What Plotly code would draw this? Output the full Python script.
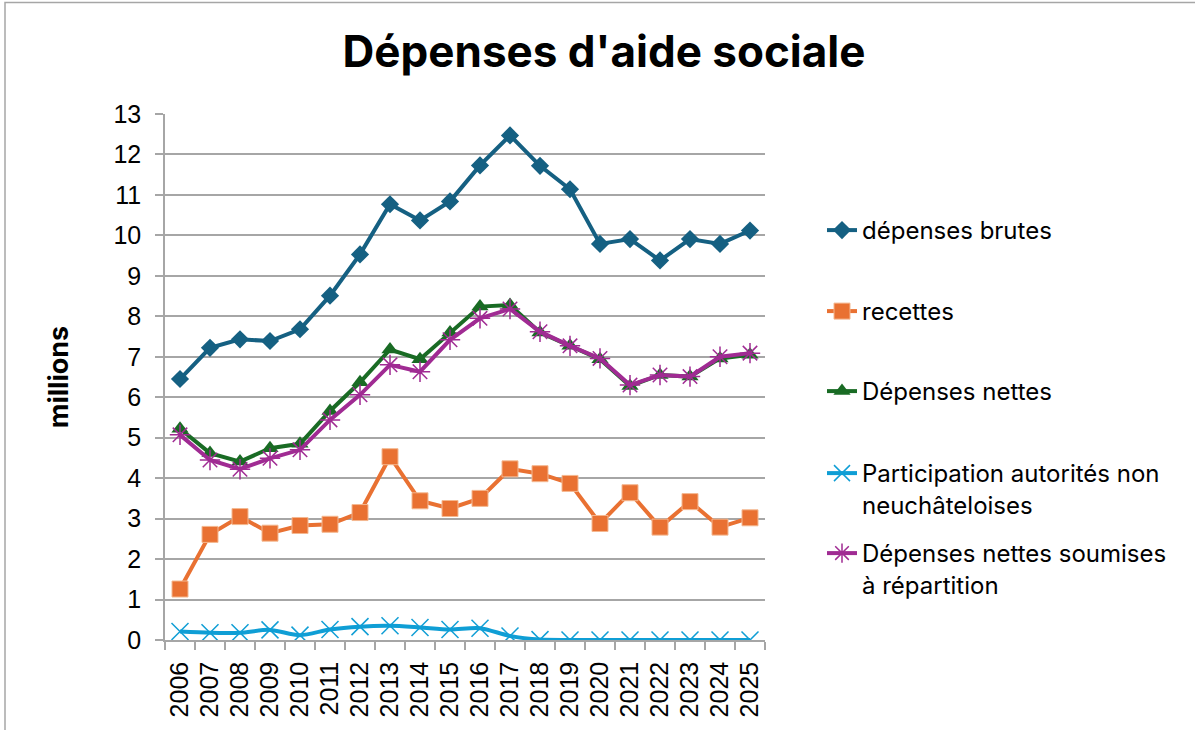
import plotly.graph_objects as go

years = [str(y) for y in range(2006, 2026)]

depenses_brutes = [6.45, 7.22, 7.43, 7.39, 7.68, 8.51, 9.53, 10.77, 10.37, 10.84,
                   11.73, 12.47, 11.72, 11.14, 9.79, 9.91, 9.38, 9.91, 9.79, 10.12]
recettes = [1.26, 2.61, 3.05, 2.64, 2.83, 2.86, 3.15, 4.53, 3.44, 3.25,
            3.50, 4.23, 4.11, 3.87, 2.88, 3.64, 2.79, 3.42, 2.79, 3.02]
depenses_nettes = [5.22, 4.62, 4.41, 4.74, 4.85, 5.66, 6.37, 7.18, 6.94, 7.60,
                   8.24, 8.28, 7.60, 7.27, 6.94, 6.28, 6.55, 6.51, 6.96, 7.05]
participation = [0.21, 0.18, 0.18, 0.25, 0.12, 0.26, 0.33, 0.35, 0.31, 0.26,
                 0.29, 0.10, 0.01, 0.0, 0.0, 0.0, 0.0, 0.0, 0.0, 0.0]
nettes_repartition = [5.07, 4.45, 4.22, 4.49, 4.70, 5.44, 6.06, 6.80, 6.63, 7.42,
                      7.95, 8.18, 7.62, 7.27, 6.96, 6.30, 6.55, 6.51, 7.00, 7.09]

names = ["dépenses brutes", "recettes", "Dépenses nettes",
         "Participation autorités non<br>neuchâteloises",
         "Dépenses nettes soumises<br>à répartition"]

TICK_FONT = "Liberation Sans, Arial, sans-serif"
TEXT_FONT = "Inter, Noto Sans, sans-serif"
GRID = "#A6A6A6"

fig = go.Figure()

series = [
    (depenses_brutes, "#156082", dict(symbol="diamond", size=14), "linear"),
    (recettes, "#E97132", dict(symbol="square", size=16,
                                line=dict(color="#F4B890", width=1)), "linear"),
    (depenses_nettes, "#196B24", dict(symbol="triangle-up", size=15), "linear"),
    (participation, "#0F9ED5", dict(symbol="x-thin", size=17,
                                     line=dict(color="#0F9ED5", width=1.5)), "spline"),
    (nettes_repartition, "#A02B93", dict(symbol="asterisk", size=17,
                                          line=dict(color="#A02B93", width=1.5)), "linear"),
]

for i, (vals, color, marker, shape) in enumerate(series):
    marker = dict(marker)
    marker["color"] = color
    fig.add_trace(go.Scatter(
        x=years, y=vals, name=names[i], mode="lines+markers",
        line=dict(color=color, width=4, shape=shape, smoothing=0.8),
        marker=marker,
        legend="legend" if i == 0 else f"legend{i + 1}",
    ))

# Each series gets its own legend box stacked on the right
W, H = 1195, 730
L, R, T, B = 165, 430, 114, 90
pw, ph = W - L - R, H - T - B
legend_tops = [208, 289, 369, 451, 531]
legend_layout = {}
for i, top in enumerate(legend_tops):
    key = "legend" if i == 0 else f"legend{i + 1}"
    legend_layout[key] = dict(
        x=(822 - L) / pw, y=(H - B - top) / ph,
        xanchor="left", yanchor="top", valign="top",
        font=dict(family=TEXT_FONT, size=24, color="#000000"),
        bgcolor="rgba(0,0,0,0)", borderwidth=0,
    )

fig.update_layout(
    width=W, height=H,
    margin=dict(l=L, r=R, t=T, b=B),
    paper_bgcolor="white", plot_bgcolor="white",
    title=dict(text="<b>Dépenses d'aide sociale</b>",
               x=604 / W, xref="container", xanchor="center",
               y=1 - 52 / H, yref="container", yanchor="middle",
               font=dict(family=TEXT_FONT, size=44, color="#000000")),
    showlegend=True,
    **legend_layout,
)

fig.update_xaxes(
    type="category", range=[-0.5, 19.5],
    tickmode="array", tickvals=years, ticktext=years,
    showline=True, linecolor=GRID, linewidth=1.5,
    showgrid=False,
    ticks="outside", tickson="boundaries", ticklen=8, tickcolor=GRID, tickwidth=1.5,
    tickangle=-90, ticklabelstandoff=10,
    tickfont=dict(family=TICK_FONT, size=25, color="#000000"),
)
fig.update_yaxes(
    range=[0, 13], dtick=1, tick0=0,
    showline=True, linecolor=GRID, linewidth=1.5,
    showgrid=True, gridcolor=GRID, gridwidth=1.5,
    ticks="outside", ticklen=8, tickcolor=GRID, tickwidth=1.5,
    ticklabelstandoff=9, zeroline=False,
    tickfont=dict(family=TICK_FONT, size=25, color="#000000"),
    title=dict(text="<b>millions</b>", standoff=37,
               font=dict(family=TEXT_FONT, size=27, color="#000000")),
)

# Chart area frame
fig.add_shape(type="rect", xref="paper", yref="paper",
              x0=(5 - L) / pw, x1=(W + 20 - L) / pw,
              y0=(H - B - (H + 20)) / ph, y1=(H - B - 2.5) / ph,
              line=dict(color="#A6A6A6", width=1.5), fillcolor="rgba(0,0,0,0)",
              layer="below")

fig.write_html("out.html")
